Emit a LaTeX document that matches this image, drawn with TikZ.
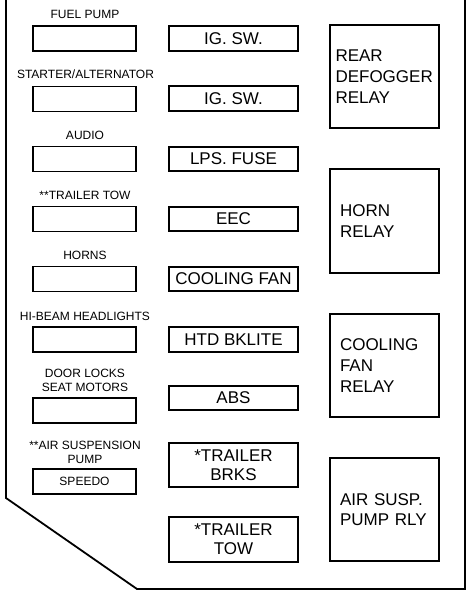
\documentclass[tikz,border=0pt]{standalone}
\usepackage{fontspec}
\setmainfont{Liberation Sans}
\usepackage{tikz}
\tikzset{
    fuse/.style={draw, line width=1.6pt, minimum width=103pt, minimum height=25pt, inner sep=0pt, font=\fontsize{12}{13}\selectfont},
    blade/.style={draw, line width=1.6pt, minimum width=129pt, minimum height=24.5pt, inner sep=0pt, align=center, font=\fontsize{17}{19}\selectfont},
    relay/.style={draw, line width=1.6pt, minimum width=109pt, minimum height=103.5pt, inner ysep=0pt, inner xsep=10pt, text width=89pt, align=left, font=\fontsize{17}{20.7}\selectfont},
    tag/.style={inner sep=0pt, align=center, font=\fontsize{12}{14}\selectfont}
}
\begin{document}
\begin{tikzpicture}[x=1pt, y=-1pt]
        \useasboundingbox (0,0) rectangle (474,593);
        \draw[line width=1.8pt, line join=miter] (6,0) -- (6,498) -- (137,589) -- (465,589) -- (465,0);

        % left column
        \draw (84.5,38.5) node[fuse](fuelpump){};
        \draw (84.5,99) node[fuse](starter){};
        \draw (84.5,159) node[fuse](audio){};
        \draw (84.5,219) node[fuse](trltow){};
        \draw (84.5,279) node[fuse](horns){};
        \draw (84.5,339.5) node[fuse](hibeam){};
        \draw (84.5,410.5) node[fuse](doorlocks){};
        \draw (84.5,481.5) node[fuse](speedo){SPEEDO};

        \draw (85,14) node[tag](fuelpumplbl){FUEL PUMP};
        \draw (85.5,74) node[tag](starterlbl){STARTER/ALTERNATOR};
        \draw (85,135) node[tag](audiolbl){AUDIO};
        \draw (85,195) node[tag](trltowlbl){**TRAILER TOW};
        \draw (85,255) node[tag](hornslbl){HORNS};
        \draw (85,316) node[tag](hibeamlbl){HI-BEAM HEADLIGHTS};
        \draw (85,380) node[tag](doorlockslbl){DOOR LOCKS\\SEAT MOTORS};
        \draw (85,452.5) node[tag](airsusplbl){**AIR SUSPENSION\\PUMP};

        % middle column
        \draw (233.5,38.5) node[blade](igsw1){IG. SW.};
        \draw (233.5,98.5) node[blade](igsw2){IG. SW.};
        \draw (233.5,159) node[blade](lps){LPS. FUSE};
        \draw (233.5,219) node[blade](eec){EEC};
        \draw (233.5,279) node[blade](coolfan){COOLING FAN};
        \draw (233.5,339.5) node[blade](htd){HTD BKLITE};
        \draw (233.5,398) node[blade](abs){ABS};
        \draw (233.5,465) node[blade, minimum height=44.5pt](trlbrks){*TRAILER\\BRKS};
        \draw (233.5,539.5) node[blade, minimum height=45.5pt](trltowf){*TRAILER\\TOW};

        % relays
        \draw (384.5,76.5) node[relay, inner xsep=5.5pt, text width=98pt](defog){REAR\\DEFOGGER\\RELAY};
        \draw (384.5,221) node[relay](hornrly){HORN\\RELAY};
        \draw (384.5,365.5) node[relay](fanrly){COOLING\\FAN\\RELAY};
        \draw (384.5,509.5) node[relay](airrly){AIR SUSP.\\PUMP RLY};
    \end{tikzpicture}
\end{document}
